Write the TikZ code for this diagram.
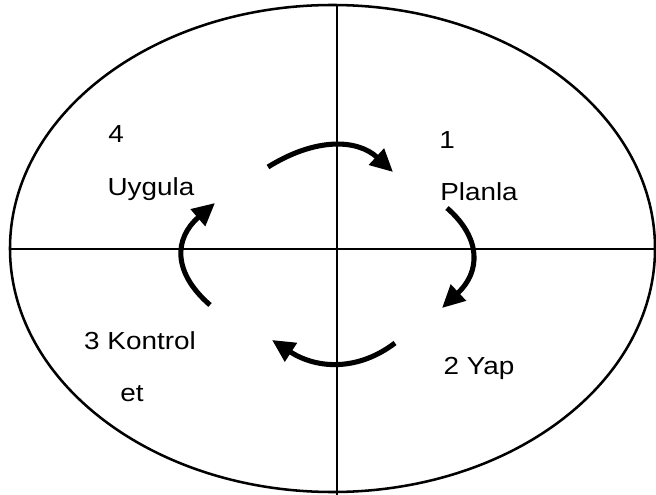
\documentclass[tikz,border=0pt]{standalone}
\usepackage{fontspec}
\setmainfont{Liberation Sans}[FakeStretch=1.13]
\usetikzlibrary{arrows.meta}
\begin{document}
\begin{tikzpicture}[x=0.75pt,y=-0.75pt,
  frame/.style={line width=1.9pt,black},
  cyclearrow/.style={line width=3.8pt,black,-{Triangle[length=17pt,width=16pt]}},
  label/.style={font=\fontsize{18.5pt}{21pt}\selectfont,inner sep=0pt,anchor=center}]
\useasboundingbox (0,0) rectangle (656,495);
\fill[white] (0,0) rectangle (656,495);
\draw[frame] (332.5,248.5) ellipse [x radius=322.5, y radius=243.5];
\coordinate (vt) at (337,5);
\coordinate (vb) at (337,495);
\coordinate (hl) at (10,249);
\coordinate (hr) at (656,249);
\draw[frame] (vt) -- (vb);
\draw[frame] (hl) -- (hr);
\node[label] (n4) at (116,134) {4};
\node[label] (uyg) at (151,189) {Uygula};
\node[label] (n1) at (447,140) {1};
\node[label] (plan) at (479,192) {Planla};
\node[label] (kon) at (140,341) {3 Kontrol};
\node[label] (et) at (132,394) {et};
\node[label] (yap) at (479,368) {2 Yap};
\coordinate (a1s) at (268,167);
\coordinate (a1e) at (393,172);
\coordinate (a2s) at (447,208);
\coordinate (a2e) at (442,308);
\coordinate (a3s) at (395,343);
\coordinate (a3e) at (272,340);
\coordinate (a4s) at (210,305);
\coordinate (a4e) at (215,203);
\draw[cyclearrow] (a1s) .. controls (315.7,137.3) and (357.3,139) .. (a1e);
\draw[cyclearrow] (a2s) .. controls (482,238.7) and (480.3,272) .. (a2e);
\draw[cyclearrow] (a3s) .. controls (358.7,370.7) and (317.7,369.7) .. (a3e);
\draw[cyclearrow] (a4s) .. controls (172.3,272.3) and (174,238.3) .. (a4e);
\end{tikzpicture}
\end{document}
